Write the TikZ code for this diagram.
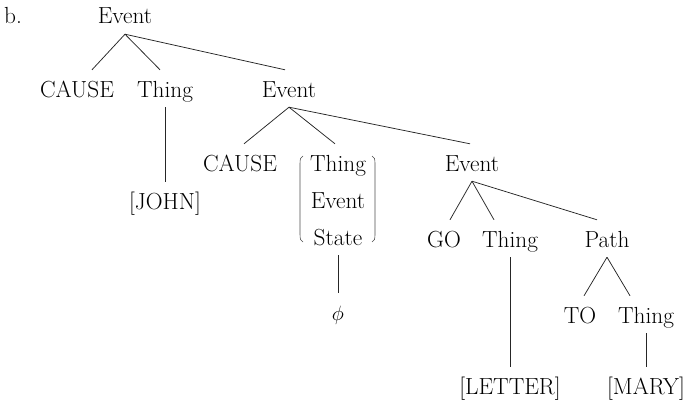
\documentclass[tikz,border=0pt]{standalone}
\usepackage{tikz}

\tikzset{
  lbl/.style={anchor=base, inner sep=0pt, text height=27pt, text depth=10pt,
              font=\fontsize{23.3}{28}\selectfont},
  branch/.style={line width=0.75pt, black!85},
  paren/.style={line width=0.6pt, black!70}
}

\begin{document}
\begin{tikzpicture}[x=1pt, y=-1pt]
  \useasboundingbox (0,0) rectangle (684,401);

  % item label
  \node[lbl, anchor=base west] (lab) at (4,24) {b.};

  % top level
  \node[lbl] (e1) at (125,24) {Event};
  \node[lbl] (c1) at (77,97) {CAUSE};
  \node[lbl] (t1) at (165,97) {Thing};
  \node[lbl] (e2) at (289,97) {Event};
  \node[lbl] (john) at (165,209) {[JOHN]};

  % second level
  \node[lbl] (c2) at (240,171) {CAUSE};
  \node[lbl] (t2) at (338,171) {Thing};
  \node[lbl] (ev) at (338,208) {Event};
  \node[lbl] (st) at (338,245) {State};
  \node[lbl, font=\fontsize{20}{24}\selectfont] (phi) at (338,320) {$\phi$};
  \node[lbl] (e3) at (472,171) {Event};

  % third level
  \node[lbl] (go) at (444,247) {GO};
  \node[lbl] (t3) at (510,247) {Thing};
  \node[lbl] (path) at (607,247) {Path};
  \node[lbl] (letter) at (510,394) {[LETTER]};
  \node[lbl] (to) at (580,323) {TO};
  \node[lbl] (t4) at (646,323) {Thing};
  \node[lbl] (mary) at (646,394) {[MARY]};

  % branches
  \draw[branch] (e1.south) -- ([xshift=15pt]c1.north);
  \draw[branch] (e1.south) -- ([xshift=-5pt]t1.north);
  \draw[branch] (e1.south) -- ([xshift=-4pt]e2.north);
  \draw[branch] (t1.south) -- (john.north);

  \draw[branch] (e2.south) -- ([xshift=4pt]c2.north);
  \draw[branch] (e2.south) -- ([xshift=-3pt]t2.north);
  \draw[branch] (e2.south) -- ([xshift=-2pt]e3.north);
  \draw[branch] (st.south) -- (phi.north);

  \draw[branch] (e3.south) -- ([xshift=6pt]go.north);
  \draw[branch] (e3.south) -- ([xshift=-16pt]t3.north);
  \draw[branch] (e3.south) -- ([xshift=-10pt]path.north);
  \draw[branch] (t3.south) -- (letter.north);

  \draw[branch] (path.south) -- ([xshift=4pt]to.north);
  \draw[branch] (path.south) -- ([xshift=-16pt]t4.north);
  \draw[branch] (t4.south) -- (mary.north);

  % parentheses around the Thing / Event / State choice
  \draw[paren] (303,156) .. controls (300.5,157) and (300,159) .. (300,164)
               -- (300,234) .. controls (300,239) and (300.5,241) .. (303,242);
  \draw[paren] (372,156) .. controls (374.5,157) and (375,159) .. (375,164)
               -- (375,234) .. controls (375,239) and (374.5,241) .. (372,242);
\end{tikzpicture}
\end{document}
